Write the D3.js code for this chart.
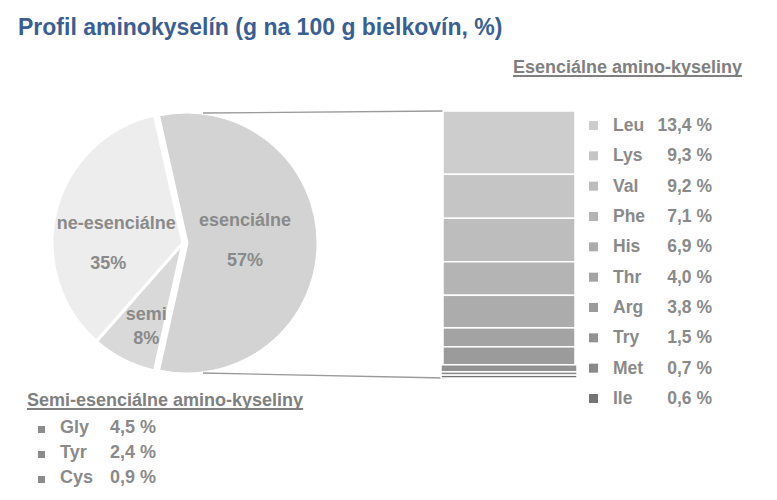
<!DOCTYPE html>
<html>
<head>
<meta charset="utf-8">
<script src="https://cdn.jsdelivr.net/npm/d3@7"></script>
<style>
  body { margin: 0; background: #fff; }
  text { font-family: "Liberation Sans", Arial, sans-serif; font-weight: bold; }
</style>
</head>
<body>
<div class="graph"></div>
<script>
const width = 777;
const height = 500;

// pie: groups of amino acids (share in %)
const groups = ['esenciálne', 'semi', 'ne-esenciálne'];
const groupValues = [57, 8, 35];

// essential amino acids (g per 100 g protein)
const essNames = ['Leu', 'Lys', 'Val', 'Phe', 'His', 'Thr', 'Arg', 'Try', 'Met', 'Ile'];
const essValues = [13.4, 9.3, 9.2, 7.1, 6.9, 4.0, 3.8, 1.5, 0.7, 0.6];

// semi-essential amino acids
const semiNames = ['Gly', 'Tyr', 'Cys'];
const semiValues = [4.5, 2.4, 0.9];

const title = 'Profil aminokyselín (g na 100 g bielkovín, %)';
const essTitle = 'Esenciálne amino-kyseliny';
const semiTitle = 'Semi-esenciálne amino-kyseliny';

const textGray = '#8a8a8a';
const pieColors = ['#d3d3d3', '#d9d9d9', '#ededed'];
const barColors = ['#cdcdcd', '#c5c5c5', '#bdbdbd', '#b4b4b4', '#acacac',
                   '#a3a3a3', '#9b9b9b', '#929292', '#898989', '#747474'];

const fmt = v => v.toFixed(1).replace('.', ',') + ' %';

const svg = d3.select('.graph').append('svg')
  .attr('width', width)
  .attr('height', height);

svg.append('text')
  .attr('x', 18)
  .attr('y', 35)
  .style('font-size', '23px')
  .style('fill', '#3b5f92')
  .text(title);

// ---- pie ----
const cx = 183, cy = 243, r = 131;
const deg = Math.PI / 180;
const start = 90 * deg - groupValues[0] / 100 * Math.PI;

const pie = d3.pie().sort(null)
  .startAngle(start)
  .endAngle(start + 2 * Math.PI);
const arcs = pie(groupValues);
const arc = d3.arc().innerRadius(0).outerRadius(r);

const explode = [4, 0, 0];
const labelNudge = [[-10, -3], [-4, 18], [3, 18]];
const labelArc = d3.arc().innerRadius(r * 0.55).outerRadius(r * 0.55);

const pieG = svg.append('g').attr('transform', `translate(${cx}, ${cy})`);

pieG.selectAll('path')
  .data(arcs)
  .join('path')
  .attr('d', arc)
  .attr('transform', (d, i) => {
    const a = (d.startAngle + d.endAngle) / 2;
    return `translate(${Math.sin(a) * explode[i]}, ${-Math.cos(a) * explode[i]})`;
  })
  .attr('fill', (d, i) => pieColors[i])
  .attr('stroke', '#fff')
  .attr('stroke-width', 3);

const pieLabels = pieG.selectAll('g.lbl')
  .data(arcs)
  .join('g')
  .attr('class', 'lbl')
  .attr('transform', (d, i) => {
    const c = labelArc.centroid(d);
    return `translate(${c[0] + labelNudge[i][0]}, ${c[1] + labelNudge[i][1]})`;
  });

pieLabels.append('text')
  .attr('text-anchor', 'middle')
  .attr('y', (d, i) => i === 1 ? -12 : -20)
  .attr('dy', '0.35em')
  .style('font-size', '18px')
  .style('fill', textGray)
  .text((d, i) => groups[i]);

pieLabels.append('text')
  .attr('text-anchor', 'middle')
  .attr('x', (d, i) => i === 2 ? -8 : 0)
  .attr('y', (d, i) => i === 1 ? 13 : 20)
  .attr('dy', '0.35em')
  .style('font-size', '18px')
  .style('fill', textGray)
  .text(d => Math.round(d.value) + '%');

// ---- stacked bar for essential ----
const barX = 443, barW = 132;
const total = d3.sum(essValues);
const yBar = d3.scaleLinear().domain([0, total]).range([111, 378]);
const cum = d3.cumsum(essValues);
const stack = essValues.map((v, i) => ({ name: essNames[i], v, y0: cum[i] - v, y1: cum[i] }));

// connector lines from the essential slice to the bar
const ex = cx + explode[0];
const aTop = 7 * deg, aBot = 173 * deg;
const connectors = [
  [[ex + Math.sin(aTop) * r, cy - Math.cos(aTop) * r], [barX, yBar(0)]],
  [[ex + Math.sin(aBot) * r, cy - Math.cos(aBot) * r], [barX + 2, yBar(total)]]
];
svg.selectAll('line.conn')
  .data(connectors)
  .join('line')
  .attr('class', 'conn')
  .attr('x1', d => d[0][0]).attr('y1', d => d[0][1])
  .attr('x2', d => d[1][0]).attr('y2', d => d[1][1])
  .attr('stroke', '#9a9a9a')
  .attr('stroke-width', 1.3);

svg.selectAll('rect.seg')
  .data(stack)
  .join('rect')
  .attr('class', 'seg')
  .attr('x', d => d.v < 2 ? barX - 2 : barX)
  .attr('width', d => d.v < 2 ? barW + 4 : barW)
  .attr('y', d => yBar(d.y0))
  .attr('height', d => Math.max(yBar(d.y1) - yBar(d.y0), 1))
  .attr('fill', (d, i) => barColors[i])
  .attr('stroke', '#fff')
  .attr('stroke-width', 1.5);

// essential legend
const yLeg = d3.scalePoint().domain(essNames).range([125, 398]);

const essLeg = svg.selectAll('g.ess')
  .data(stack)
  .join('g')
  .attr('class', 'ess')
  .attr('transform', d => `translate(0, ${yLeg(d.name)})`);

essLeg.append('rect')
  .attr('x', 589).attr('y', -4)
  .attr('width', 9).attr('height', 9)
  .attr('fill', (d, i) => barColors[i]);

essLeg.append('text')
  .attr('x', 613)
  .attr('dy', '0.35em')
  .style('font-size', '17.5px')
  .style('fill', textGray)
  .text(d => d.name);

essLeg.append('text')
  .attr('x', 712)
  .attr('dy', '0.35em')
  .attr('text-anchor', 'end')
  .style('font-size', '17.5px')
  .style('fill', textGray)
  .text(d => fmt(d.v));

// ---- headings with underline ----
const underlined = (x, y, str) => {
  const t = svg.append('text')
    .attr('x', x).attr('y', y)
    .style('font-size', '18px')
    .style('fill', '#808080')
    .text(str);
  const w = t.node().getComputedTextLength();
  svg.append('line')
    .attr('x1', x).attr('x2', x + w)
    .attr('y1', y + 3).attr('y2', y + 3)
    .attr('stroke', '#808080')
    .attr('stroke-width', 1.8);
};
underlined(513, 73, essTitle);
underlined(27, 406, semiTitle);

// semi-essential legend
const ySemi = d3.scalePoint().domain(semiNames).range([427, 477]);

const semiLeg = svg.selectAll('g.semi')
  .data(semiNames.map((n, i) => ({ name: n, v: semiValues[i] })))
  .join('g')
  .attr('class', 'semi')
  .attr('transform', d => `translate(0, ${ySemi(d.name)})`);

semiLeg.append('rect')
  .attr('x', 38).attr('y', -1)
  .attr('width', 7).attr('height', 7)
  .attr('fill', '#8c8c8c');

semiLeg.append('text')
  .attr('x', 60)
  .attr('dy', '0.35em')
  .style('font-size', '18px')
  .style('fill', textGray)
  .text(d => d.name);

semiLeg.append('text')
  .attr('x', 110)
  .attr('dy', '0.35em')
  .style('font-size', '18px')
  .style('fill', textGray)
  .text(d => fmt(d.v));
</script>
</body>
</html>
